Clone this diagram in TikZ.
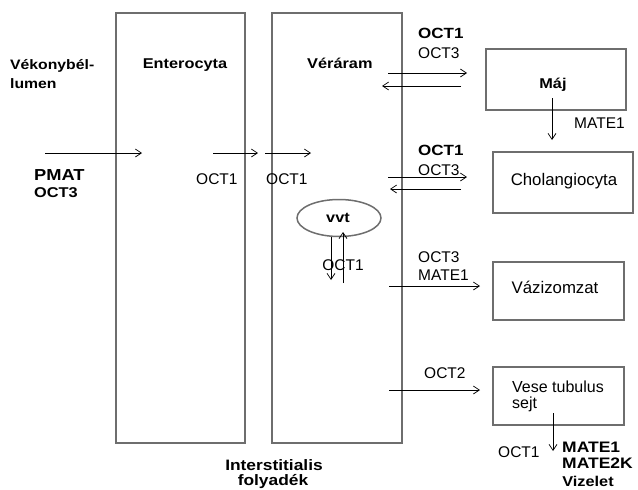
\documentclass[tikz,border=0pt]{standalone}
\usepackage{fontspec}
\setmainfont{Liberation Sans}
\newfontfamily\bfw[FakeStretch=1.15]{Liberation Sans Bold}
\usetikzlibrary{arrows.meta,shapes.geometric}
\definecolor{boxgray}{HTML}{6E6E6E}
\begin{document}
\begin{tikzpicture}[x=1pt,y=-1pt,
  box/.style={draw=boxgray, line width=1.5pt, inner sep=0pt},
  arr/.style={-{Straight Barb[length=6pt,width=8pt]}, line width=0.7pt},
  lab/.style={font=\fontsize{15.5}{18}\selectfont, inner sep=0pt},
  blab/.style={font=\fontsize{14.2}{17}\bfw, inner sep=0pt},
  btext/.style={font=\fontsize{16.8}{18}\selectfont, inner sep=0pt}]
\useasboundingbox (0,0) rectangle (638,490);
% big columns
\node[box, minimum width=129pt, minimum height=430pt] (ent) at (180.5,228) {};
\node[box, minimum width=130pt, minimum height=430pt] (ver) at (337,228) {};
% organ boxes
\node[box, minimum width=140pt, minimum height=61pt] (maj) at (556,79.5) {};
\node[box, minimum width=140pt, minimum height=61pt] (chol) at (563,182.5) {};
\node[box, minimum width=131pt, minimum height=58pt] (vaz) at (558.5,291) {};
\node[box, minimum width=131pt, minimum height=58pt] (vese) at (558.5,396) {};
\node[ellipse, draw=boxgray, line width=1.5pt, minimum width=84pt, minimum height=37pt] (vvt) at (339,218) {};
% texts
\node[btext, anchor=base] (cholt) at (564,185) {Cholangiocyta};
\node[btext, anchor=base] (vazt) at (555,293) {Vázizomzat};
\node[btext, font=\fontsize{16}{18}\selectfont, anchor=base west] (veset1) at (512,392) {Vese tubulus};
\node[btext, font=\fontsize{16}{18}\selectfont, anchor=base west] (veset2) at (512,408) {sejt};
\node[blab, font=\fontsize{13.7}{17}\bfw, anchor=base west] (lum1) at (10,69) {Vékonybél-};
\node[blab, font=\fontsize{13.7}{17}\bfw, anchor=base west] (lum2) at (10,88) {lumen};
\node[blab, anchor=base] (entt) at (185,68) {Enterocyta};
\node[blab, anchor=base west] (vert) at (307,68) {Véráram};
\node[blab, anchor=base] (majt) at (553,88) {Máj};
\node[blab, anchor=base] (vvtt) at (338,222) {vvt};
\node[blab, font=\fontsize{15.9}{17}\bfw, anchor=base west] (pmat) at (34,180) {PMAT};
\node[blab, anchor=base west] (oct3a) at (34,197) {OCT3};
\node[lab, anchor=base west] (oct1a) at (196,184) {OCT1};
\node[lab, anchor=base west] (oct1b) at (266,184) {OCT1};
\node[blab, font=\fontsize{14.8}{17}\bfw, anchor=base west] (oct1c) at (418,38) {OCT1};
\node[lab, anchor=base west] (oct3c) at (418,58) {OCT3};
\node[lab, anchor=base west] (mate1a) at (574,128) {MATE1};
\node[blab, font=\fontsize{14.8}{17}\bfw, anchor=base west] (oct1d) at (418,155) {OCT1};
\node[lab, anchor=base west] (oct3d) at (418,175) {OCT3};
\node[lab, anchor=base] (oct1v) at (343,270) {OCT1};
\node[lab, anchor=base west] (oct3e) at (418,262) {OCT3};
\node[lab, anchor=base west] (mate1e) at (418,280) {MATE1};
\node[lab, anchor=base west] (oct2) at (424,378) {OCT2};
\node[lab, anchor=base west] (oct1f) at (498,457) {OCT1};
\node[blab, font=\fontsize{15.2}{17}\bfw, anchor=base west] (mate1f) at (562,452) {MATE1};
\node[blab, font=\fontsize{15.2}{17}\bfw, anchor=base west] (mate2k) at (562,468) {MATE2K};
\node[blab, font=\fontsize{15.1}{17}\bfw, anchor=base] (inter1) at (274,470) {Interstitialis};
\node[blab, font=\fontsize{15.1}{17}\bfw, anchor=base] (inter2) at (273,485) {folyadék};
\node[blab, anchor=base] (viz) at (588,486) {Vizelet};
% arrow end points
\coordinate (a1s) at (45,153);  \coordinate (a1e) at (142,153);
\coordinate (a2s) at (213,153); \coordinate (a2e) at (258,153);
\coordinate (a3s) at (265,153); \coordinate (a3e) at (311,153);
\coordinate (b1s) at (388,73);  \coordinate (b1e) at (467,73);
\coordinate (b2s) at (461,86);  \coordinate (b2e) at (382,86);
\coordinate (c1s) at (552,98);  \coordinate (c1e) at (552,140);
\coordinate (d1s) at (388,177); \coordinate (d1e) at (467,177);
\coordinate (d2s) at (461,189); \coordinate (d2e) at (390,189);
\coordinate (v1s) at (331,237); \coordinate (v1e) at (331,280);
\coordinate (v2s) at (343,283); \coordinate (v2e) at (343,232);
\coordinate (e1s) at (389,286); \coordinate (e1e) at (480,286);
\coordinate (f1s) at (389,390); \coordinate (f1e) at (480,390);
\coordinate (g1s) at (553,413); \coordinate (g1e) at (553,451);
\foreach \p in {a1,a2,a3,b1,b2,c1,d1,d2,v1,v2,e1,f1,g1}
  \draw[arr] (\p s) -- (\p e);
\end{tikzpicture}
\end{document}
